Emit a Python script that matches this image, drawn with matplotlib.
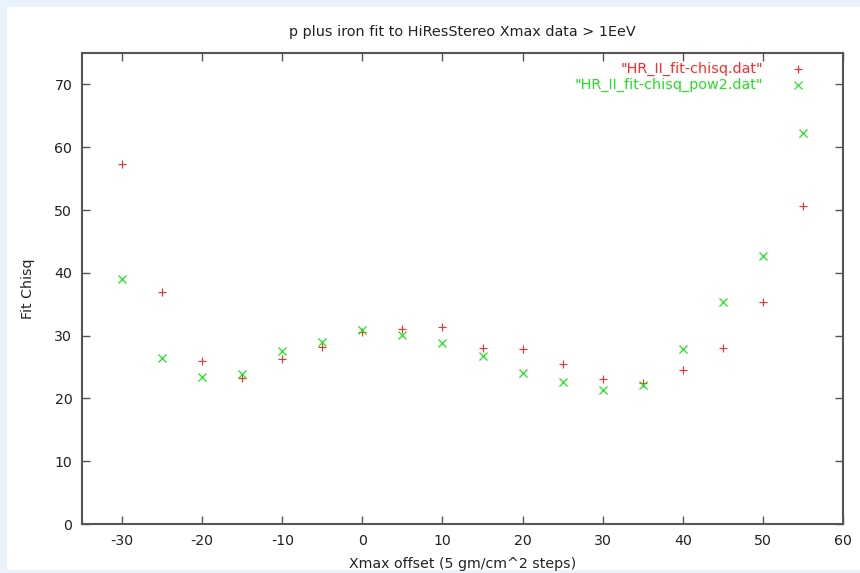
import numpy as np
import matplotlib
matplotlib.use('Agg')
import matplotlib.pyplot as plt
from matplotlib.patches import Rectangle

plt.rcParams.update({
    'font.family': ['DejaVu Sans'],
    'font.size': 10.2,
    'axes.unicode_minus': False,
})

# Data
xmax_offset = [-30, -25, -20, -15, -10, -5, 0, 5, 10, 15, 20, 25, 30, 35, 40, 45, 50, 55]
chisq = [57.3, 37.0, 26.0, 23.3, 26.3, 28.2, 30.5, 31.0, 31.3, 28.1, 27.9, 25.5,
         23.1, 22.4, 24.5, 28.1, 35.4, 50.7]
chisq_pow2 = [39.0, 26.5, 23.4, 23.9, 27.5, 29.0, 30.9, 30.1, 28.8, 26.8, 24.0, 22.6,
              21.3, 22.2, 27.9, 35.4, 42.6, 62.2]

labels = ['"HR_II_fit-chisq.dat"', '"HR_II_fit-chisq_pow2.dat"']
RED = '#ff2a2a'
GREEN = '#22e022'

fig = plt.figure(figsize=(8.6, 5.73), dpi=100)
fig.patch.set_facecolor('#e8f3fc')
# white panel inside the light blue border
fig.patches.append(Rectangle((7 / 860, 3 / 573), 1 - 7 / 860, 1 - 10 / 573,
                             transform=fig.transFigure, facecolor='white',
                             edgecolor='none', zorder=-10))

ax = fig.add_axes([82 / 860, 49 / 573, 761 / 860, 471 / 573])
ax.set_zorder(5)
ax.set_facecolor('white')

ax.plot(xmax_offset, chisq, linestyle='none', marker='+', color=RED,
        markersize=6, markeredgewidth=0.8)
ax.plot(xmax_offset, chisq_pow2, linestyle='none', marker='x', color=GREEN,
        markersize=5.8, markeredgewidth=0.9)

ax.set_xlim(-35, 60)
ax.set_ylim(0, 75)
ax.set_xticks(np.arange(-30, 61, 10))
ax.set_yticks(np.arange(0, 71, 10))

for s in ax.spines.values():
    s.set_color('#555555')
    s.set_linewidth(1.5)
ax.tick_params(direction='in', length=6, width=1, color='#555555',
               top=True, right=True, labelcolor='#222222')
ax.tick_params(axis='x', pad=7)
ax.tick_params(axis='y', pad=7)

ax.set_title('p plus iron fit to HiResStereo Xmax data > 1EeV', pad=12,
             fontsize=10.4, color='#222222')
ax.set_xlabel('Xmax offset (5 gm/cm^2 steps)', labelpad=7, color='#222222')
ax.set_ylabel('Fit Chisq', labelpad=14, color='#222222')

# gnuplot style key: right aligned text, sample on the right
key_rows = [(labels[0], RED, '+', 6), (labels[1], GREEN, 'x', 5.8)]
for i, (lab, col, mk, ms) in enumerate(key_rows):
    ky = 0.966 - i * 0.034
    ax.text(0.895, ky, lab, transform=ax.transAxes, ha='right', va='center',
            color=col, fontsize=10.4)
    ax.plot([0.941], [ky], transform=ax.transAxes, linestyle='none', marker=mk,
            color=col, markersize=ms, markeredgewidth=0.85, clip_on=False)

fig.savefig('out.png', dpi=100, facecolor=fig.get_facecolor())
